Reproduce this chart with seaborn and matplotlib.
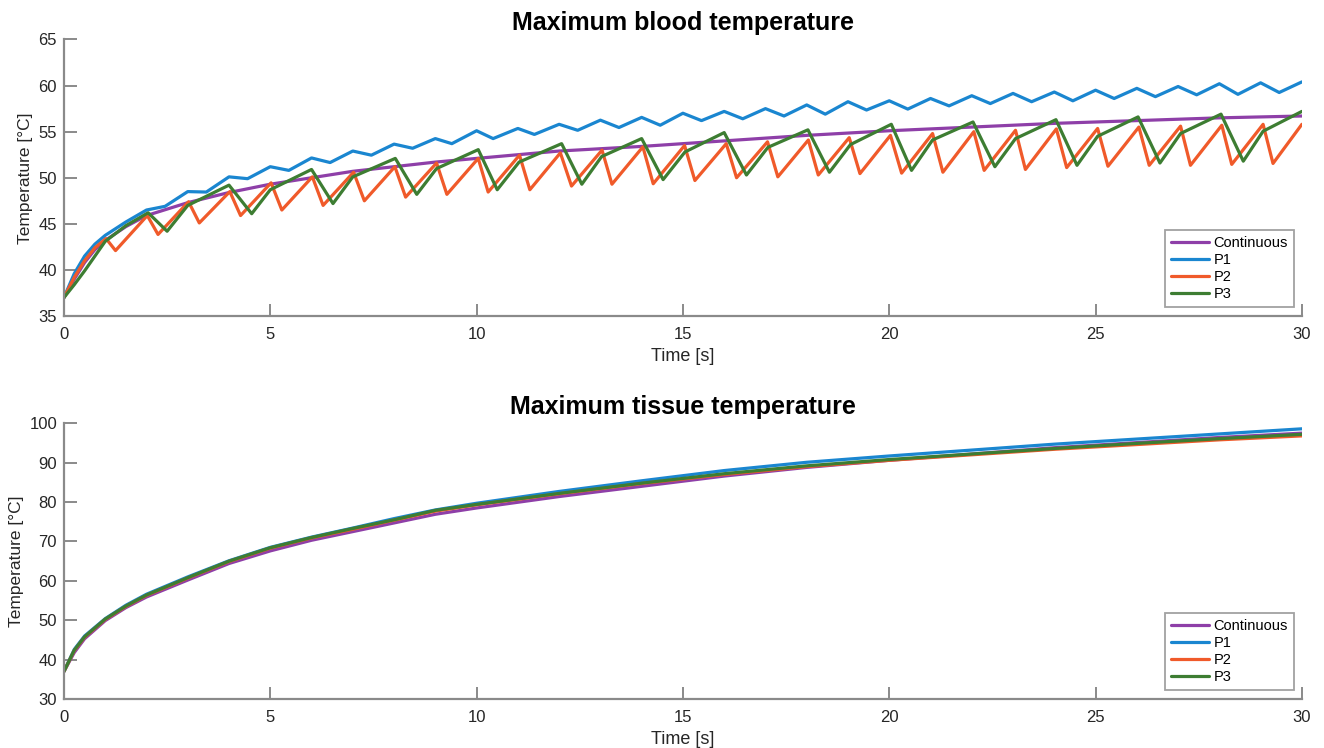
import seaborn as sns
import matplotlib.pyplot as plt

# ---- blood temperature (top) ----
cont_t = [0, 0.25, 0.5, 0.75, 1.0, 1.5, 2.0, 2.5, 3.0, 4.0, 5.0, 6.0, 7.0, 8.0, 9.0, 10.0,
          12.0, 14.0, 16.0, 18.0, 20.0, 22.0, 24.0, 26.0, 28.0, 30.0]
cont_T = [37.0, 39.0, 40.8, 42.2, 43.2, 44.7, 45.9, 46.6, 47.3, 48.4, 49.3, 50.0, 50.7, 51.2, 51.7, 52.1,
          52.9, 53.4, 54.0, 54.6, 55.1, 55.5, 55.9, 56.2, 56.5, 56.7]

p1_t = [0, 0.25, 0.5, 0.75, 1.0, 1.5, 2.0, 2.45, 3.0, 3.45, 4.0, 4.45, 5.0, 5.45, 6.0, 6.45,
        7.0, 7.45, 8.0, 8.45, 9.0, 9.4, 10.0, 10.4, 11.0, 11.4, 12.0, 12.45, 13.0, 13.45,
        14.0, 14.45, 15.0, 15.45, 16.0, 16.45, 17.0, 17.45, 18.0, 18.45, 19.0, 19.45,
        20.0, 20.45, 21.0, 21.45, 22.0, 22.45, 23.0, 23.45, 24.0, 24.45, 25.0, 25.45,
        26.0, 26.45, 27.0, 27.45, 28.0, 28.45, 29.0, 29.45, 30.0]
p1_T = [37.0, 39.6, 41.5, 42.8, 43.75, 45.2, 46.5, 46.9, 48.5, 48.45, 50.1, 49.9, 51.2, 50.8, 52.15, 51.65,
        52.9, 52.45, 53.65, 53.2, 54.25, 53.7, 55.1, 54.25, 55.35, 54.7, 55.8, 55.15, 56.25, 55.45,
        56.55, 55.7, 57.0, 56.2, 57.2, 56.4, 57.5, 56.7, 57.9, 56.9, 58.25, 57.35,
        58.35, 57.45, 58.6, 57.8, 58.9, 58.05, 59.15, 58.25, 59.3, 58.35, 59.5, 58.6,
        59.7, 58.8, 59.9, 59.0, 60.2, 59.05, 60.3, 59.25, 60.4]

p2_t = [0, 0.25, 0.5, 0.75, 1.02, 1.25, 2.02, 2.28, 3.02, 3.28, 4.02, 4.28, 5.02, 5.28,
        6.02, 6.28, 7.02, 7.28, 8.02, 8.28, 9.03, 9.28, 10.04, 10.28, 11.04, 11.29,
        12.03, 12.3, 13.04, 13.28, 14.03, 14.28, 15.04, 15.29, 16.05, 16.3, 17.05, 17.3,
        18.04, 18.28, 19.03, 19.29, 20.03, 20.3, 21.05, 21.3, 22.05, 22.3, 23.06, 23.3,
        24.05, 24.3, 25.05, 25.3, 26.05, 26.3, 27.06, 27.3, 28.06, 28.3, 29.06, 29.3, 30.0]
p2_T = [37.0, 39.2, 41.0, 42.4, 43.4, 42.1, 45.9, 43.85, 47.4, 45.1, 48.5, 45.9, 49.45, 46.5,
        50.1, 47.0, 50.6, 47.5, 51.2, 47.9, 51.6, 48.2, 52.1, 48.45, 52.45, 48.7,
        52.7, 49.1, 53.0, 49.3, 53.35, 49.35, 53.5, 49.7, 53.7, 50.0, 53.9, 50.1,
        54.1, 50.3, 54.35, 50.45, 54.6, 50.5, 54.8, 50.6, 55.0, 50.8, 55.15, 50.9,
        55.3, 51.1, 55.35, 51.25, 55.5, 51.35, 55.6, 51.35, 55.7, 51.45, 55.8, 51.55, 55.8]

p3_t = [0, 0.25, 0.5, 0.75, 1.0, 1.5, 2.04, 2.5, 3.0, 4.0, 4.55, 5.0, 6.0, 6.52, 7.0,
        8.03, 8.55, 9.03, 10.04, 10.5, 11.03, 12.06, 12.55, 13.03, 14.0, 14.52, 15.05,
        16.0, 16.54, 17.06, 18.03, 18.55, 19.06, 20.05, 20.54, 21.05, 22.03, 22.56, 23.06,
        24.04, 24.55, 25.05, 26.03, 26.56, 27.06, 28.04, 28.58, 29.06, 30.0]
p3_T = [37.0, 38.4, 39.9, 41.5, 43.1, 44.8, 46.2, 44.2, 47.0, 49.2, 46.1, 48.7, 50.9, 47.2, 50.1,
        52.1, 48.2, 51.0, 53.05, 48.7, 51.7, 53.7, 49.3, 52.3, 54.25, 49.8, 52.8,
        54.9, 50.3, 53.3, 55.2, 50.6, 53.6, 55.8, 50.8, 54.1, 56.05, 51.2, 54.25,
        56.3, 51.35, 54.5, 56.6, 51.6, 54.8, 56.9, 51.8, 55.05, 57.2]

# ---- tissue temperature (bottom) ----
tis_t = [0, 0.25, 0.5, 1.0, 1.5, 2.0, 3.0, 4.0, 5.0, 6.0, 7.0, 8.0, 9.0, 10.0,
         12.0, 14.0, 16.0, 18.0, 20.0, 22.0, 24.0, 26.0, 28.0, 30.0]
tis_cont = [37.0, 41.8, 45.3, 49.9, 53.2, 55.9, 60.2, 64.4, 67.6, 70.3, 72.5, 74.7, 76.9, 78.5,
            81.4, 84.0, 86.6, 88.8, 90.6, 92.2, 93.8, 95.1, 96.4, 97.5]
tis_p1 = [37.0, 42.6, 46.0, 50.4, 53.8, 56.6, 61.0, 65.1, 68.5, 71.1, 73.4, 75.8, 78.0, 79.7,
          82.7, 85.4, 88.0, 90.1, 91.7, 93.2, 94.7, 96.0, 97.3, 98.6]
tis_p2 = [37.0, 42.3, 45.7, 50.2, 53.5, 56.3, 60.7, 64.9, 68.3, 70.9, 73.1, 75.4, 77.7, 79.3,
          82.1, 84.7, 87.0, 89.0, 90.6, 92.0, 93.4, 94.6, 95.8, 96.8]
tis_p3 = [37.0, 42.4, 45.8, 50.3, 53.6, 56.4, 60.8, 65.0, 68.4, 71.0, 73.3, 75.5, 77.9, 79.4,
          82.2, 84.8, 87.2, 89.2, 90.8, 92.2, 93.6, 94.9, 96.1, 97.2]

labels = ["Continuous", "P1", "P2", "P3"]
colors = ["#8e3fa8", "#1a86d0", "#f05a2a", "#3d7d32"]

sns.set_theme(style="white")
plt.rcParams['font.family'] = ['Liberation Sans', 'DejaVu Sans']

fig = plt.figure(figsize=(13.24, 7.48), dpi=100)
ax1 = fig.add_axes([0.0483, 0.5775, 0.935, 0.3697])
ax2 = fig.add_axes([0.0483, 0.0655, 0.935, 0.3686])

top = [(cont_t, cont_T), (p1_t, p1_T), (p2_t, p2_T), (p3_t, p3_T)]
for (t, T), lab, c in zip(top, labels, colors):
    sns.lineplot(x=t, y=T, ax=ax1, color=c, lw=2.3, label=lab, solid_joinstyle="round")

for T, lab, c in zip([tis_cont, tis_p1, tis_p2, tis_p3], labels, colors):
    sns.lineplot(x=tis_t, y=T, ax=ax2, color=c, lw=2.3, label=lab, solid_joinstyle="round")

gray = "#8a8a8a"
for ax, title, ylim, yt in [(ax1, "Maximum blood temperature", (35, 65), range(35, 66, 5)),
                            (ax2, "Maximum tissue temperature", (30, 100), range(30, 101, 10))]:
    ax.set_xlim(0, 30)
    ax.set_ylim(*ylim)
    ax.set_xticks(range(0, 31, 5))
    ax.set_yticks(list(yt))
    ax.set_title(title, fontsize=18, fontweight="bold", color="black", pad=7)
    ax.set_xlabel("Time [s]", fontsize=13, color="#262626", labelpad=4)
    ax.set_ylabel("Temperature [°C]", fontsize=12.5, color="#262626", labelpad=4)
    for s in ["top", "right"]:
        ax.spines[s].set_visible(False)
    for s in ["left", "bottom"]:
        ax.spines[s].set_color(gray)
        ax.spines[s].set_linewidth(1.6)
    ax.tick_params(direction="in", length=9, width=1.4, color=gray, labelsize=12,
                   labelcolor="#262626", left=True, bottom=True)
    ax.tick_params(axis="x", pad=8)
    ax.tick_params(axis="y", pad=5)
    leg = ax.legend(loc="lower right", bbox_to_anchor=(0.9935, 0.034), borderaxespad=0,
                    fontsize=10.5, frameon=True, fancybox=False, edgecolor=gray,
                    handlelength=2.6, handletextpad=0.35, labelspacing=0.2, borderpad=0.4)
    leg.get_frame().set_linewidth(1.3)
    for txt in leg.get_texts():
        txt.set_color("black")

fig.savefig("out.png", dpi=100)
